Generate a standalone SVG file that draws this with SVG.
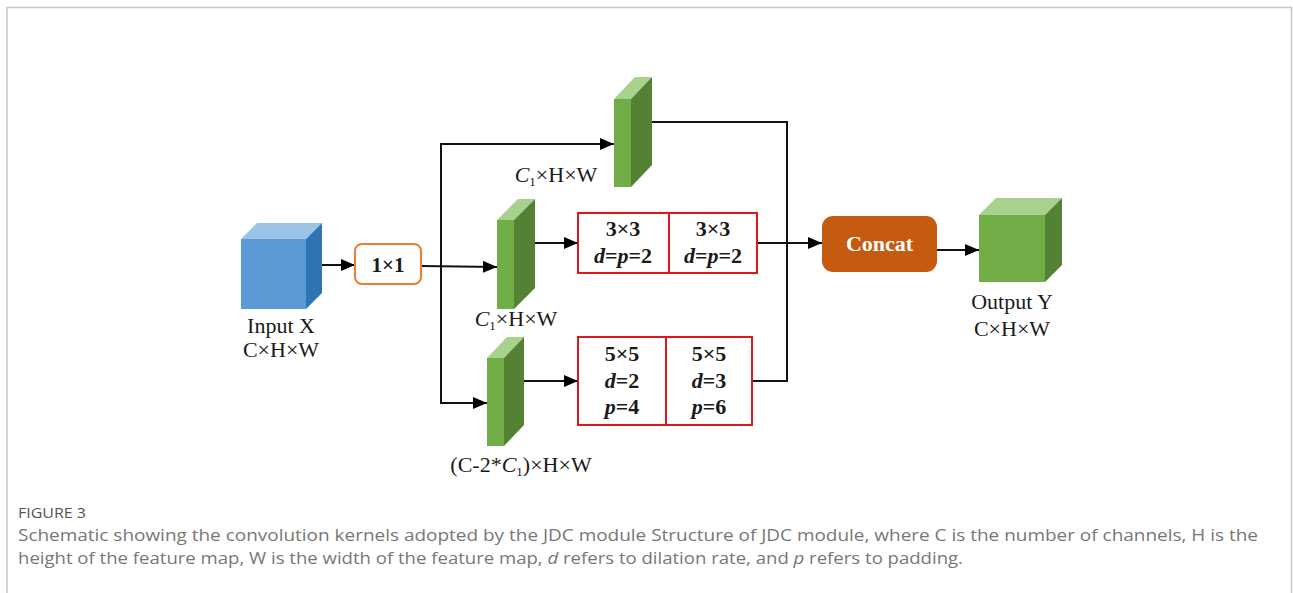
<svg xmlns="http://www.w3.org/2000/svg" width="1293" height="593" viewBox="0 0 1293 593">
<style>
.lbl{font-family:"Liberation Serif","Times New Roman",serif;font-size:22px;fill:#1a1a1a;text-anchor:middle}
.bld{font-family:"Liberation Serif","Times New Roman",serif;font-size:22px;font-weight:bold;fill:#1a1a1a;text-anchor:middle}
.ln{fill:none;stroke:#111;stroke-width:2}
.red{fill:#fff;stroke:#E0161E;stroke-width:2}
.gf{fill:#70AD47}.gt{fill:#A9D18E}.gr{fill:#548235}
.cap{font-family:"Open Sans","Liberation Sans",sans-serif;fill:#777;font-size:16px}
</style>
<defs>
<marker id="ah" markerUnits="userSpaceOnUse" markerWidth="14" markerHeight="12" refX="14" refY="6" orient="auto">
<path d="M0,0 L14,6 L0,12 Z" fill="#000"/>
</marker>
</defs>
<rect width="1293" height="593" fill="#fff"/>
<path d="M7,593 V7.5 H1291.5 V593" fill="none" stroke="#c8c8c8" stroke-width="1.5"/>

<g id="connectors">
<line class="ln" x1="322" y1="265" x2="355" y2="265" marker-end="url(#ah)"/>
<line class="ln" x1="421" y1="266" x2="497" y2="267" marker-end="url(#ah)"/>
<polyline class="ln" points="614,144 441,144 441,403 487,403"/>
<line class="ln" x1="441" y1="144" x2="614" y2="144" marker-end="url(#ah)"/>
<line class="ln" x1="441" y1="403" x2="487" y2="403" marker-end="url(#ah)"/>
<line class="ln" x1="535" y1="243" x2="578" y2="243" marker-end="url(#ah)"/>
<line class="ln" x1="524" y1="381" x2="578" y2="381" marker-end="url(#ah)"/>
<polyline class="ln" points="652,122 787,122 787,381 752,381"/>
<line class="ln" x1="757" y1="243" x2="822" y2="243" marker-end="url(#ah)"/>
<line class="ln" x1="937" y1="250" x2="979" y2="250" marker-end="url(#ah)"/>
</g>

<g id="input">
<rect x="241" y="239" width="65" height="70" fill="#5B9BD5"/>
<polygon points="241,239 306,239 322,223 257,223" fill="#9DC3E6"/>
<polygon points="306,239 322,223 322,293 306,309" fill="#2E75B6"/>
<text class="lbl" x="281" y="333">Input X</text>
<text class="lbl" x="281" y="357">C×H×W</text>
</g>

<g id="conv1x1">
<rect x="355" y="244" width="66" height="40" rx="7" fill="#fff" stroke="#ED7D31" stroke-width="2"/>
<text class="bld" x="388" y="272" style="font-size:21px">1×1</text>
</g>

<g id="slab-top">
<rect class="gf" x="614" y="99" width="17" height="88"/>
<polygon class="gt" points="614,99 631,99 652,77 635,77"/>
<polygon class="gr" points="631,99 652,77 652,165 631,187"/>
<text class="lbl" x="556" y="182"><tspan font-style="italic">C</tspan><tspan font-size="13" dy="4">1</tspan><tspan dy="-4">×H×W</tspan></text>
</g>

<g id="slab-mid">
<rect class="gf" x="497" y="220" width="17" height="89"/>
<polygon class="gt" points="497,220 514,220 535,199 518,199"/>
<polygon class="gr" points="514,220 535,199 535,288 514,309"/>
<text class="lbl" x="516" y="326"><tspan font-style="italic">C</tspan><tspan font-size="13" dy="4">1</tspan><tspan dy="-4">×H×W</tspan></text>
</g>

<g id="slab-bot">
<rect class="gf" x="487" y="358" width="17" height="88"/>
<polygon class="gt" points="487,358 504,358 524,337 507,337"/>
<polygon class="gr" points="504,358 524,337 524,425 504,446"/>
<text class="lbl" x="521" y="472">(C-2*<tspan font-style="italic">C</tspan><tspan font-size="13" dy="4">1</tspan><tspan dy="-4">)×H×W</tspan></text>
</g>

<g id="box-3x3">
<rect class="red" x="578" y="213" width="179" height="60"/>
<line x1="669" y1="213" x2="669" y2="273" stroke="#E0161E" stroke-width="2"/>
<text class="bld" x="623" y="236">3×3</text>
<text class="bld" x="623" y="263"><tspan font-style="italic">d</tspan>=<tspan font-style="italic">p</tspan>=2</text>
<text class="bld" x="713" y="236">3×3</text>
<text class="bld" x="713" y="263"><tspan font-style="italic">d</tspan>=<tspan font-style="italic">p</tspan>=2</text>
</g>

<g id="box-5x5">
<rect class="red" x="578" y="337" width="174" height="88"/>
<line x1="666" y1="337" x2="666" y2="425" stroke="#E0161E" stroke-width="2"/>
<text class="bld" x="622" y="361">5×5</text>
<text class="bld" x="622" y="388"><tspan font-style="italic">d</tspan>=2</text>
<text class="bld" x="622" y="414"><tspan font-style="italic">p</tspan>=4</text>
<text class="bld" x="709" y="361">5×5</text>
<text class="bld" x="709" y="388"><tspan font-style="italic">d</tspan>=3</text>
<text class="bld" x="709" y="414"><tspan font-style="italic">p</tspan>=6</text>
</g>

<g id="concat">
<rect x="822" y="216" width="115" height="56" rx="11" fill="#C55A11"/>
<text class="bld" x="879.5" y="251" style="fill:#fff">Concat</text>
</g>

<g id="output">
<rect x="979" y="215" width="66" height="67" fill="#70AD47"/>
<polygon points="979,215 1045,215 1062,198 996,198" fill="#A9D18E"/>
<polygon points="1045,215 1062,198 1062,265 1045,282" fill="#548235"/>
<text class="lbl" x="1012" y="309">Output Y</text>
<text class="lbl" x="1012" y="336">C×H×W</text>
</g>

<g id="caption">
<text class="cap" x="18" y="518" textLength="68" lengthAdjust="spacingAndGlyphs" style="font-size:14px;fill:#555">FIGURE 3</text>
<text class="cap" x="18" y="541" textLength="1240" lengthAdjust="spacingAndGlyphs">Schematic showing the convolution kernels adopted by the JDC module Structure of JDC module, where C is the number of channels, H is the</text>
<text class="cap" x="18" y="564" textLength="945" lengthAdjust="spacingAndGlyphs">height of the feature map, W is the width of the feature map, <tspan font-style="italic">d</tspan> refers to dilation rate, and <tspan font-style="italic">p</tspan> refers to padding.</text>
</g>
</svg>
